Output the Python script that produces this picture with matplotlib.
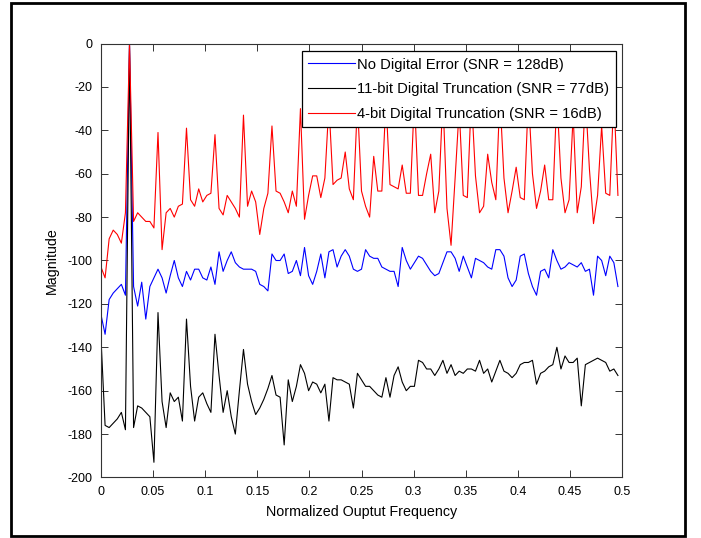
import numpy as np
import matplotlib
matplotlib.use("Agg")
import matplotlib.pyplot as plt
from matplotlib.patches import Rectangle

plt.rcParams['font.family'] = ['Liberation Sans', 'DejaVu Sans']
plt.rcParams['axes.unicode_minus'] = False

# FFT magnitude (dB) per bin, 256-point FFT, bins 0..127
no_error = [-125, -134, -118, -115, -113, -111, -116, 0, -112, -121,
            -110, -127, -112, -108, -104, -108, -115, -107, -100, -108,
            -112, -105, -109, -104, -104, -108, -109, -103, -111, -96,
            -105, -100, -96, -101, -103, -104, -104, -104, -105, -111,
            -112, -114, -97, -100, -100, -97, -106, -105, -100, -107,
            -94, -107, -111, -105, -97, -108, -96, -95, -103, -98,
            -95, -98, -104, -105, -104, -95, -98, -99, -99, -103,
            -104, -105, -105, -112, -94, -100, -104, -101, -98, -99,
            -102, -105, -107, -106, -101, -96, -96, -99, -105, -98,
            -103, -108, -99, -100, -101, -103, -104, -95, -95, -98,
            -108, -112, -109, -98, -97, -106, -112, -116, -105, -104,
            -108, -95, -100, -104, -103, -101, -102, -103, -101, -105,
            -104, -116, -98, -100, -107, -98, -101, -112]

trunc_11bit = [-136, -176, -177, -175, -173, -170, -178, -1, -177, -167,
               -168, -170, -172, -193, -124, -165, -177, -161, -165, -163,
               -174, -127, -158, -174, -163, -161, -166, -170, -134, -153,
               -170, -160, -172, -180, -160, -141, -157, -165, -171, -168,
               -164, -159, -153, -162, -163, -185, -155, -165, -158, -148,
               -152, -160, -156, -157, -161, -157, -174, -154, -155, -155,
               -156, -157, -168, -152, -155, -158, -158, -160, -162, -163,
               -154, -163, -153, -149, -156, -160, -158, -158, -146, -147,
               -150, -150, -153, -150, -146, -152, -148, -153, -151, -152,
               -150, -150, -151, -146, -152, -150, -156, -151, -146, -151,
               -152, -154, -152, -148, -147, -147, -146, -157, -152, -151,
               -149, -148, -140, -150, -144, -147, -147, -145, -167, -148,
               -147, -146, -145, -146, -147, -151, -150, -153]

trunc_4bit = [-103, -108, -90, -86, -88, -92, -78, 0, -82, -78,
              -80, -82, -82, -85, -41, -95, -78, -76, -80, -75,
              -74, -39, -72, -75, -67, -73, -70, -69, -42, -76,
              -79, -70, -73, -76, -80, -33, -75, -68, -73, -88,
              -76, -69, -38, -68, -69, -73, -78, -68, -75, -30,
              -81, -70, -61, -61, -71, -62, -28, -65, -63, -62,
              -50, -67, -72, -27, -68, -75, -80, -52, -68, -68,
              -26, -65, -66, -67, -56, -69, -69, -25, -70, -70,
              -60, -51, -78, -68, -25, -76, -93, -62, -30, -70,
              -71, -24, -61, -78, -75, -51, -64, -72, -24, -62,
              -78, -68, -57, -71, -72, -24, -60, -76, -68, -56,
              -72, -72, -24, -62, -78, -72, -33, -78, -66, -24,
              -58, -83, -70, -38, -69, -70, -24, -70]

labels = ['No Digital Error (SNR = 128dB)',
          '11-bit Digital Truncation (SNR = 77dB)',
          '4-bit Digital Truncation (SNR = 16dB)']

xticks = [0, 0.05, 0.1, 0.15, 0.2, 0.25, 0.3, 0.35, 0.4, 0.45, 0.5]
xticklabels = ['0', '0.05', '0.1', '0.15', '0.2', '0.25', '0.3', '0.35', '0.4', '0.45', '0.5']
yticks = [-200, -180, -160, -140, -120, -100, -80, -60, -40, -20, 0]

freq = np.arange(len(no_error)) / 256.0

fig = plt.figure(figsize=(7.01, 5.38), dpi=100)
ax = fig.add_axes([0.1441, 0.1125, 0.7432, 0.8066])

ax.plot(freq, no_error, color='b', lw=0.8, label=labels[0])
ax.plot(freq, trunc_11bit, color='k', lw=0.8, label=labels[1])
ax.plot(freq, trunc_4bit, color='r', lw=0.8, label=labels[2])

ax.set_xlim(0, 0.5)
ax.set_ylim(-200, 0)
ax.set_xticks(xticks)
ax.set_xticklabels(xticklabels)
ax.set_yticks(yticks)
ax.tick_params(direction='in', length=5, width=0.7, top=True, right=True,
               labelsize=9, color='#333333')
ax.tick_params(axis='x', pad=6)
ax.tick_params(axis='y', pad=6)
for s in ax.spines.values():
    s.set_linewidth(0.8)
    s.set_color('#333333')

ax.set_xlabel('Normalized Ouptut Frequency', fontsize=10.3, labelpad=5)
ax.set_ylabel('Magnitude', fontsize=10.3, labelpad=6)

leg = ax.legend(loc='upper right', bbox_to_anchor=(0.988, 0.983), borderaxespad=0,
                fancybox=False, edgecolor='k', framealpha=1, fontsize=10.6,
                handlelength=3.2, handletextpad=0.12, borderpad=0.45,
                labelspacing=0.72)
leg.get_frame().set_linewidth(0.9)

# black border around the whole figure
fig.patches.append(Rectangle((11 / 701, 2 / 538), 674 / 701, 533 / 538,
                             transform=fig.transFigure, fill=False,
                             edgecolor='k', lw=2))

fig.savefig('out.png', dpi=100)
